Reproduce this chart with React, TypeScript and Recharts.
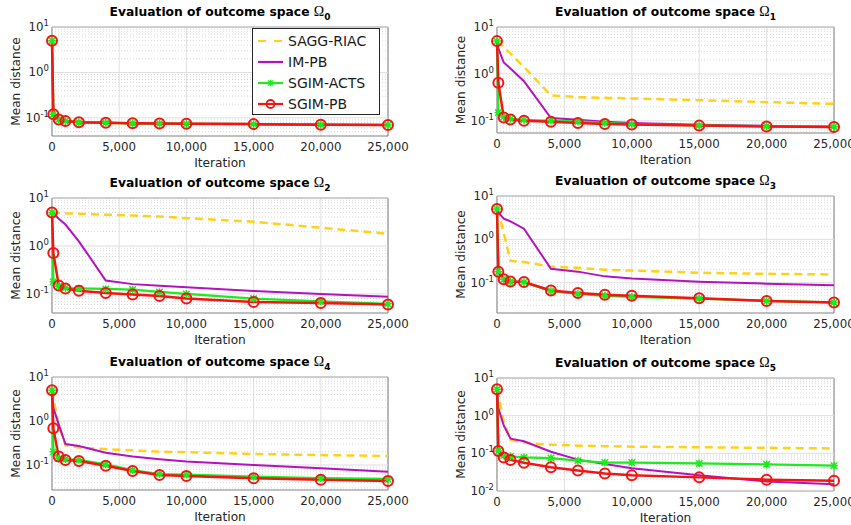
import React from 'react';
import {
  LineChart,
  Line,
  XAxis,
  YAxis,
  CartesianGrid,
  ReferenceLine,
  ReferenceArea,
  Legend,
} from 'recharts';

// iteration checkpoints shared by every panel
const ITER = [0, 100, 500, 1000, 2000, 4000, 6000, 8000, 10000, 15000, 20000, 25000];
const X_TICKS = [0, 5000, 10000, 15000, 20000, 25000];
const MINOR_STEPS = [2, 3, 4, 5, 6, 7, 8, 9];

// Omega_0
const SAGG_0 = [5, 0.12, 0.093, 0.086, 0.08, 0.078, 0.076, 0.075, 0.074, 0.073, 0.071, 0.07];
const IMPB_0 = [5, 0.12, 0.093, 0.086, 0.08, 0.078, 0.076, 0.075, 0.074, 0.073, 0.071, 0.07];
const ACTS_0 = [5, 0.12, 0.092, 0.085, 0.08, 0.078, 0.076, 0.075, 0.074, 0.073, 0.071, 0.07];
const PB_0 = [5, 0.12, 0.092, 0.085, 0.08, 0.078, 0.076, 0.075, 0.074, 0.073, 0.071, 0.07];

// Omega_1
const SAGG_1 = [5, 4.8, 3.7, 2.7, 1.4, 0.35, 0.32, 0.31, 0.3, 0.275, 0.25, 0.23];
const IMPB_1 = [5, 3.5, 1.75, 1.3, 0.7, 0.115, 0.105, 0.095, 0.09, 0.082, 0.078, 0.075];
const ACTS_1 = [5, 0.15, 0.12, 0.11, 0.105, 0.1, 0.097, 0.09, 0.085, 0.08, 0.077, 0.075];
const PB_1 = [5, 0.65, 0.118, 0.107, 0.1, 0.095, 0.09, 0.086, 0.083, 0.079, 0.076, 0.074];

// Omega_2
const SAGG_2 = [5, 5, 4.9, 4.8, 4.7, 4.5, 4.3, 4.1, 3.8, 3.2, 2.4, 1.8];
const IMPB_2 = [5, 4.8, 3.7, 2.8, 1.25, 0.19, 0.16, 0.148, 0.137, 0.115, 0.1, 0.087];
const ACTS_2 = [5, 0.18, 0.145, 0.132, 0.13, 0.127, 0.123, 0.11, 0.1, 0.08, 0.07, 0.062];
const PB_2 = [5, 0.71, 0.15, 0.13, 0.117, 0.105, 0.097, 0.09, 0.08, 0.068, 0.065, 0.06];

// Omega_3
const SAGG_3 = [5, 4.5, 1.4, 0.32, 0.3, 0.235, 0.22, 0.2, 0.19, 0.17, 0.16, 0.155];
const IMPB_3 = [5, 4.2, 3.0, 2.6, 1.76, 0.21, 0.18, 0.14, 0.125, 0.105, 0.095, 0.087];
const ACTS_3 = [5, 0.18, 0.12, 0.106, 0.103, 0.064, 0.055, 0.05, 0.047, 0.043, 0.038, 0.035];
const PB_3 = [5, 0.18, 0.12, 0.107, 0.104, 0.066, 0.058, 0.053, 0.05, 0.044, 0.038, 0.035];

// Omega_4
const SAGG_4 = [5, 3.3, 0.8, 0.28, 0.25, 0.23, 0.215, 0.2, 0.195, 0.178, 0.168, 0.16];
const IMPB_4 = [5, 2.0, 0.84, 0.3, 0.27, 0.19, 0.155, 0.135, 0.12, 0.1, 0.084, 0.07];
const ACTS_4 = [5, 0.2, 0.14, 0.135, 0.13, 0.103, 0.076, 0.062, 0.06, 0.054, 0.05, 0.048];
const PB_4 = [5, 0.68, 0.155, 0.13, 0.123, 0.096, 0.073, 0.059, 0.056, 0.05, 0.046, 0.043];

// Omega_5
const SAGG_5 = [5, 3.6, 0.7, 0.23, 0.19, 0.17, 0.16, 0.155, 0.15, 0.145, 0.14, 0.135];
const IMPB_5 = [5, 1.6, 0.55, 0.245, 0.21, 0.11, 0.068, 0.052, 0.04, 0.026, 0.018, 0.015];
const ACTS_5 = [5, 0.115, 0.087, 0.083, 0.078, 0.075, 0.064, 0.057, 0.057, 0.054, 0.051, 0.047];
const PB_5 = [5, 0.115, 0.078, 0.067, 0.056, 0.043, 0.035, 0.029, 0.026, 0.023, 0.02, 0.0187];

const FONT = '"DejaVu Sans", sans-serif';
const TXT = '#262626';

const SERIES = [
  { key: 'sagg', name: 'SAGG-RIAC', color: '#FFD21A', dash: '8 5', width: 2.5, marker: 'none' },
  { key: 'impb', name: 'IM-PB', color: '#B412BF', dash: undefined, width: 2, marker: 'none' },
  { key: 'acts', name: 'SGIM-ACTS', color: '#1EEB1E', dash: undefined, width: 2.3, marker: 'star' },
  { key: 'pb', name: 'SGIM-PB', color: '#F51414', dash: undefined, width: 2.5, marker: 'circle' },
];

const PANELS = [
  { sub: '0', left: 52, top: 27, w: 336, h: 109, lo: 0.04, data: [SAGG_0, IMPB_0, ACTS_0, PB_0], legend: true },
  { sub: '1', left: 497, top: 27, w: 337, h: 106, lo: 0.055, data: [SAGG_1, IMPB_1, ACTS_1, PB_1] },
  { sub: '2', left: 52, top: 198, w: 336, h: 115, lo: 0.04, data: [SAGG_2, IMPB_2, ACTS_2, PB_2] },
  { sub: '3', left: 497, top: 196, w: 337, h: 117, lo: 0.02, data: [SAGG_3, IMPB_3, ACTS_3, PB_3] },
  { sub: '4', left: 52, top: 377, w: 336, h: 113, lo: 0.027, data: [SAGG_4, IMPB_4, ACTS_4, PB_4] },
  { sub: '5', left: 497, top: 378, w: 337, h: 113, lo: 0.01, data: [SAGG_5, IMPB_5, ACTS_5, PB_5] },
];

const starPath = (cx: number, cy: number, s: number) =>
  `M${cx - s},${cy - s}L${cx + s},${cy + s}M${cx - s},${cy + s}L${cx + s},${cy - s}` +
  `M${cx},${cy - s - 0.6}L${cx},${cy + s + 0.6}M${cx - s - 0.6},${cy}L${cx + s + 0.6},${cy}`;

const makeDot = (marker: string, color: string) => (p: any) => {
  const { cx, cy, index } = p;
  if (cx == null || cy == null) return <g key={`e${index}`} />;
  if (marker === 'circle') {
    return <circle key={`c${index}`} cx={cx} cy={cy} r={5} fill="none" stroke={color} strokeWidth={2} />;
  }
  return <path key={`s${index}`} d={starPath(cx, cy, 3.2)} stroke={color} strokeWidth={1.5} fill="none" />;
};

const PowTick = (props: any) => {
  const { x, y, payload } = props;
  const e = Math.round(Math.log10(payload.value));
  return (
    <text x={x} y={y} dy={4} textAnchor="end" fontFamily={FONT} fontSize={11.8} fill={TXT}>
      10
      <tspan dy={-5} fontSize={8.5}>
        {e}
      </tspan>
    </text>
  );
};

const YLabel = (props: any) => {
  const vb = props.viewBox || { x: 0, y: 0, height: 0 };
  const cx = vb.x + 14;
  const cy = vb.y + vb.height / 2;
  return (
    <text
      x={cx}
      y={cy}
      transform={`rotate(-90 ${cx} ${cy})`}
      textAnchor="middle"
      dominantBaseline="central"
      fontFamily={FONT}
      fontSize={12.2}
      fill={TXT}
    >
      Mean distance
    </text>
  );
};

const LegendBox = () => (
  <div
    style={{
      width: 128,
      height: 87,
      boxSizing: 'border-box',
      border: '1px solid #262626',
      background: '#fff',
      paddingTop: 1,
    }}
  >
    {SERIES.map((s) => (
      <div key={s.key} style={{ display: 'flex', alignItems: 'center', height: 21.2 }}>
        <svg width={30} height={12} style={{ marginLeft: 4 }}>
          <line x1={1} x2={26} y1={6} y2={6} stroke={s.color} strokeWidth={2.2} strokeDasharray={s.dash ? '8 8' : undefined} />
          {s.marker === 'circle' && <circle cx={13.5} cy={6} r={4} fill="none" stroke={s.color} strokeWidth={1.8} />}
          {s.marker === 'star' && <path d={starPath(13.5, 6, 2.6)} stroke={s.color} strokeWidth={1.3} fill="none" />}
        </svg>
        <span style={{ fontFamily: FONT, fontSize: 14, color: '#1a1a1a', marginLeft: 1, lineHeight: '16px' }}>{s.name}</span>
      </div>
    ))}
  </div>
);

const Panel = ({ cfg }: { cfg: (typeof PANELS)[number] }) => {
  const rows = ITER.map((it, i) => ({
    it,
    sagg: cfg.data[0][i],
    impb: cfg.data[1][i],
    acts: cfg.data[2][i],
    pb: cfg.data[3][i],
  }));
  const majors = [0.01, 0.1, 1, 10].filter((v) => v >= cfg.lo * 0.999);
  const minors: number[] = [];
  [0.01, 0.1, 1].forEach((d) => MINOR_STEPS.forEach((k) => {
    const v = d * k;
    if (v > cfg.lo && v < 10) minors.push(v);
  }));

  const padTop = 10;
  const padRight = 24;
  const yw = 50;
  const xh = 36;

  return (
    <>
      <div
        style={{
          position: 'absolute',
          left: cfg.left,
          top: cfg.top - 22,
          width: cfg.w,
          textAlign: 'center',
          fontFamily: FONT,
          fontWeight: 'bold',
          fontSize: 12.3,
          lineHeight: '14px',
          color: '#000',
          whiteSpace: 'nowrap',
        }}
      >
        Evaluation of outcome space{' '}
        <span style={{ fontFamily: '"Liberation Serif", serif', fontWeight: 'normal', fontSize: 14 }}>Ω</span>
        <span style={{ fontSize: 9, position: 'relative', top: 4 }}>{cfg.sub}</span>
      </div>
      <div style={{ position: 'absolute', left: cfg.left - yw, top: cfg.top - padTop }}>
        <LineChart
          width={cfg.w + yw + padRight}
          height={cfg.h + padTop + xh}
          data={rows}
          margin={{ top: padTop, right: padRight, left: 0, bottom: 0 }}
        >
          <CartesianGrid horizontal={false} stroke="#e0e0e0" />
          {minors.map((v) => (
            <ReferenceLine key={`m${v}`} y={v} stroke="#cfcfcf" strokeDasharray="1 2" strokeWidth={0.8} />
          ))}
          {majors.map((v) => (
            <ReferenceLine key={`M${v}`} y={v} stroke="#dedede" />
          ))}
          <XAxis
            dataKey="it"
            type="number"
            domain={[0, 25000]}
            ticks={X_TICKS}
            interval={0}
            tickFormatter={(v: number) => v.toLocaleString('en-US')}
            tick={{ fontSize: 11.8, fill: TXT, fontFamily: FONT }}
            tickLine={false}
            axisLine={false}
            tickSize={0}
            tickMargin={7}
            height={xh}
            label={{ value: 'Iteration', position: 'insideBottom', offset: 5.5, fontSize: 12.2, fill: TXT, fontFamily: FONT }}
          />
          <YAxis
            type="number"
            scale="log"
            domain={[cfg.lo, 10]}
            allowDataOverflow
            ticks={majors}
            interval={0}
            tick={<PowTick />}
            tickLine={false}
            axisLine={false}
            tickSize={0}
            tickMargin={3}
            width={yw}
            label={YLabel}
          />
          {SERIES.map((s) => (
            <Line
              key={s.key}
              dataKey={s.key}
              name={s.name}
              stroke={s.color}
              strokeWidth={s.width}
              strokeDasharray={s.dash}
              dot={s.marker === 'none' ? false : makeDot(s.marker, s.color)}
              activeDot={false}
              isAnimationActive={false}
            />
          ))}
          <ReferenceArea x1={0} x2={25000} y1={cfg.lo} y2={10} fill="none" stroke="#808080" strokeWidth={1} />
          {cfg.legend && (
            <Legend
              layout="vertical"
              align="center"
              verticalAlign="middle"
              content={<LegendBox />}
              wrapperStyle={{ left: 250, top: 11, width: 128, height: 87 }}
            />
          )}
        </LineChart>
      </div>
    </>
  );
}

export default function App() {
  return (
    <div
      style={{
        position: 'absolute',
        left: 0,
        top: 0,
        width: 851,
        height: 525,
        overflow: 'hidden',
        background: '#fff',
      }}
    >
      {PANELS.map((p) => (
        <Panel key={p.sub} cfg={p} />
      ))}
    </div>
  );
}
